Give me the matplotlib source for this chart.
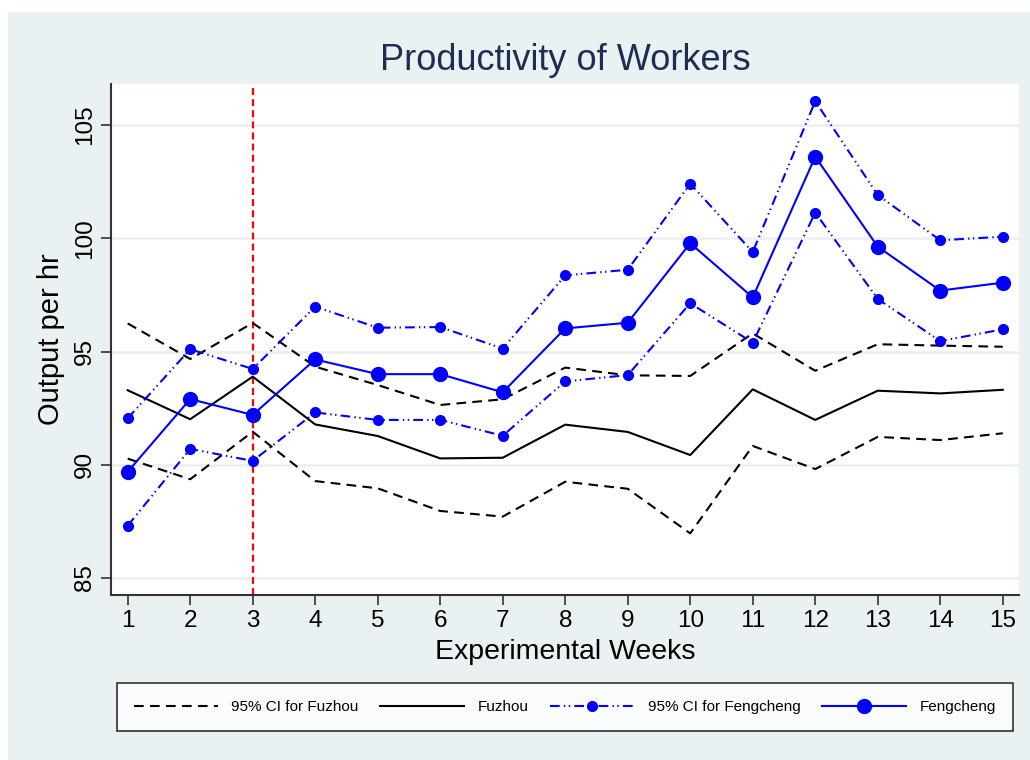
import matplotlib
matplotlib.use("Agg")
import matplotlib.pyplot as plt
from matplotlib.patches import Rectangle
from matplotlib.lines import Line2D

plt.rcParams["font.family"] = ["Liberation Sans", "DejaVu Sans"]
plt.rcParams["lines.scale_dashes"] = False

weeks = list(range(1, 16))

fuzhou = [93.29, 92.01, 93.89, 91.78, 91.27, 90.28, 90.31, 91.77,
          91.45, 90.43, 93.33, 91.98, 93.27, 93.15, 93.31]
fuzhou_hi = [96.24, 94.67, 96.26, 94.33, 93.52, 92.64, 92.89, 94.29,
             93.95, 93.92, 95.80, 94.15, 95.32, 95.26, 95.21]
fuzhou_lo = [90.27, 89.36, 91.46, 89.28, 88.96, 87.96, 87.71, 89.25,
             88.94, 86.97, 90.83, 89.81, 91.23, 91.09, 91.39]

fengcheng = [89.69, 92.90, 92.20, 94.65, 94.00, 94.00, 93.20, 96.02,
             96.27, 99.78, 97.39, 103.60, 99.63, 97.69, 98.04]
fengcheng_hi = [92.05, 95.10, 94.23, 96.98, 96.05, 96.08, 95.13, 98.36,
                98.61, 102.41, 99.39, 106.05, 101.91, 99.91, 100.07]
fengcheng_lo = [87.31, 90.70, 90.17, 92.31, 91.98, 91.98, 91.28, 93.68,
                93.96, 97.13, 95.39, 101.13, 97.32, 95.46, 95.98]

cutoff_week = 3
yticks = [85, 90, 95, 100, 105]

bg = "#eaf1f3"
navy = "#1e2d53"
W, H = 1030, 760

fig = plt.figure(figsize=(W / 100, H / 100), dpi=100, facecolor="white")
fig.patches.append(Rectangle((8 / W, 0), 1, 1 - 12 / H, transform=fig.transFigure,
                             facecolor=bg, edgecolor="none", zorder=-10))

ax = fig.add_axes([111 / W, 1 - 595 / H, (1019 - 111) / W, (595 - 84) / H])
ax.set_facecolor("white")

ci_dash = (0, (7, 4.5))
ci_dashdot = (0, (7, 3, 1, 2.5, 1, 3))

# treatment starts in week 3
ax.axvline(cutoff_week, color="#ff0000", lw=1.6, linestyle=(0, (5, 3)), zorder=1)

ax.plot(weeks, fuzhou_hi, color="black", lw=1.5, linestyle=ci_dash, zorder=2)
ax.plot(weeks, fuzhou_lo, color="black", lw=1.5, linestyle=ci_dash, zorder=2)
ax.plot(weeks, fuzhou, color="black", lw=1.5, zorder=3)
for ci in (fengcheng_hi, fengcheng_lo):
    ax.plot(weeks, ci, color="#0000ff", lw=1.5, linestyle=ci_dashdot,
            marker="o", markersize=7, zorder=4)
ax.plot(weeks, fengcheng, color="#0000ff", lw=1.5, marker="o",
        markersize=10, zorder=5)

ax.set_xlim(0.733, 15.26)
ax.set_ylim(84.25, 106.81)
ax.set_xticks(weeks)
ax.set_yticks(yticks)
ax.set_yticklabels([str(t) for t in yticks], rotation=90, va="center")
ax.tick_params(axis="both", labelsize=17.5, length=7, width=1.2,
               color="#333333", direction="out", pad=4)
ax.grid(axis="y", color=bg, lw=2, zorder=0)
ax.set_axisbelow(True)
for side in ("top", "right"):
    ax.spines[side].set_visible(False)
for side in ("left", "bottom"):
    ax.spines[side].set_color("#333333")
    ax.spines[side].set_linewidth(1.5)

ax.set_title("Productivity of Workers", fontsize=26, color=navy, pad=10)
ax.set_xlabel("Experimental Weeks", fontsize=20.5, labelpad=5)
ax.set_ylabel("Output per hr", fontsize=21, labelpad=6)

handles = [
    Line2D([], [], color="black", lw=1.5, linestyle=ci_dash),
    Line2D([], [], color="black", lw=1.5),
    Line2D([], [], color="#0000ff", lw=1.5, linestyle=ci_dashdot,
           marker="o", markersize=7),
    Line2D([], [], color="#0000ff", lw=1.5, marker="o", markersize=10),
]
labels = ["95% CI for Fuzhou", "Fuzhou", "95% CI for Fengcheng", "Fengcheng"]
leg = fig.legend(handles, labels, ncol=4, loc="center",
                 bbox_to_anchor=(565 / W, 1 - 707 / H), fontsize=11,
                 frameon=True, fancybox=False, handlelength=5.5,
                 handletextpad=0.9, columnspacing=1.4, borderpad=1.1,
                 borderaxespad=0)
leg.get_frame().set_edgecolor("black")
leg.get_frame().set_linewidth(1.2)

fig.savefig("out.png", dpi=100, facecolor="white")
